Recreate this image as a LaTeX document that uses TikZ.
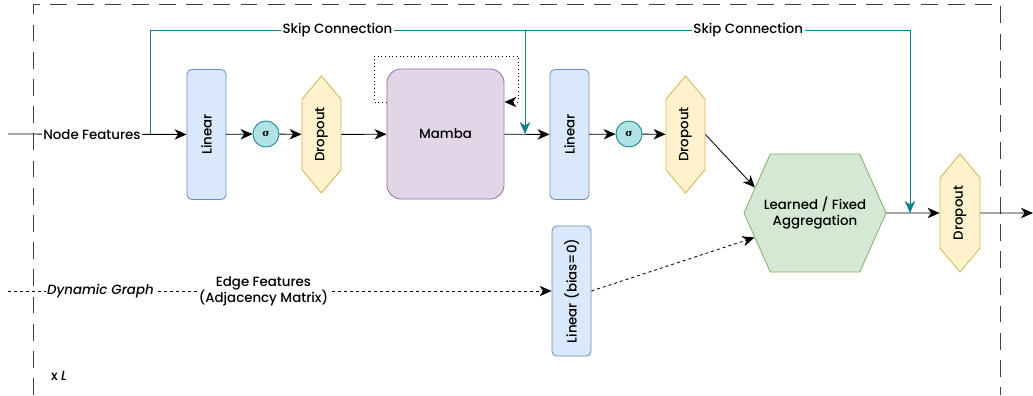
\documentclass[tikz,border=0pt]{standalone}
\usepackage{fontspec}
\setmainfont{Poppins}[UprightFont=* Medium,ItalicFont=* Medium Italic]
\newfontfamily\greekfont{DejaVu Serif}
\usepackage{tikz}
\usetikzlibrary{positioning,arrows.meta,shapes.symbols,calc}

\definecolor{linfill}{HTML}{DAE8FC}
\definecolor{linline}{HTML}{6C8EBF}
\definecolor{dropfill}{HTML}{FFF2CC}
\definecolor{dropline}{HTML}{D6B656}
\definecolor{mambafill}{HTML}{E1D5E7}
\definecolor{mambaline}{HTML}{9673A6}
\definecolor{aggfill}{HTML}{D5E8D4}
\definecolor{aggline}{HTML}{82B366}
\definecolor{actfill}{HTML}{B0E3E6}
\definecolor{actline}{HTML}{0E8088}

\begin{document}
\begin{tikzpicture}[x=0.025cm,y=-0.025cm,font=\fontsize{9.5}{11.5}\selectfont,line width=0.6pt,
  >={Stealth[length=3mm,width=2.6mm,inset=0.9mm]},
  linear/.style={draw=linline,fill=linfill,rounded corners=1.2mm,rotate=90,
    minimum width=3.25cm,minimum height=0.975cm,inner sep=1pt},
  dropout/.style={draw=dropline,fill=dropfill,shape=signal,signal to=east and west,
    signal pointer angle=80,rotate=90,minimum width=2.925cm,minimum height=0.975cm,inner sep=1pt},
  act/.style={circle,draw=actline,fill=actfill,minimum size=0.65cm,inner sep=0pt,
    font=\greekfont\bfseries\fontsize{7}{8}\selectfont},
  lbl/.style={fill=white,inner sep=1pt},
  skip/.style={draw=actline},
  dashline/.style={dash pattern=on 0.075cm off 0.075cm},
  ]
  \useasboundingbox (0,0) rectangle (1033,395);

  % repeated block frame
  \draw[black!75,line width=0.7pt,dash pattern=on 0.42cm off 0.26cm] (33,395) -- (33,4) -- (1000,4) -- (1000,395);
  \node[anchor=west] (reps) at (46,376) {x \textit{L}};

  % node feature path
  \node[linear] (lin1) at (206.5,134.5) {Linear};
  \node[act] (sig1) at (266,134) {σ};
  \node[dropout] (drop1) at (321.5,134.5) {Dropout};
  \node[draw=mambaline,fill=mambafill,rounded corners=3.5mm,minimum width=2.925cm,minimum height=3.25cm] (mamba) at (445.5,134) {Mamba};
  \node[linear] (lin2) at (569.5,134.5) {Linear};
  \node[act] (sig2) at (629,134) {σ};
  \node[dropout] (drop2) at (685.5,134.5) {Dropout};
  \node[draw=aggline,fill=aggfill,shape=signal,signal to=east and west,signal pointer angle=132,
    inner xsep=-0.32cm,minimum width=3.55cm,minimum height=2.95cm,align=center] (agg) at (815,213) {Learned / Fixed\\Aggregation};
  \node[dropout,minimum width=2.95cm,minimum height=1cm] (drop3) at (960,213) {Dropout};
  % edge feature path
  \node[linear] (lin3) at (571.5,291) {Linear (bias=0)};

  \coordinate (in) at (8,134);
  \coordinate (fork) at (150,134);
  \coordinate (join) at (525,134);
  \coordinate (top1) at (525,30);
  \coordinate (merge) at (910,213);
  \coordinate (out) at (1033,213);
  \coordinate (dyn) at (8,291);
  \coordinate (loopl) at (374,56);
  \coordinate (loopr) at (518,102);

  \draw[->] (in) -- node[lbl,pos=0.47] {Node Features} (lin1);
  \draw[->] (lin1) -- (sig1);
  \draw[->] (sig1) -- (drop1);
  \draw[->] (drop1) -- (mamba);
  \draw[->] (mamba) -- (lin2);
  \draw[->] (lin2) -- (sig2);
  \draw[->] (sig2) -- (drop2);
  \draw[->] (drop2.south) -- (agg.157);
  \draw[->] (agg) -- (drop3);
  \draw[->] (drop3) -- (out);

  % recurrence around the Mamba block
  \draw[dotted,->] ($(mamba.west)+(0,-32)$) -| (loopl) -| (loopr) -- ($(mamba.east)+(0,-32)$);

  % skip connections
  \draw[skip,->] (fork) |- node[lbl,pos=0.75] {Skip Connection} (top1) -- (join);
  \draw[skip,->] (top1) -| node[lbl,pos=0.29] {Skip Connection} (merge);

  \draw[dashline,->] (dyn) -- node[lbl,pos=0.17] {\itshape Dynamic Graph}
    node[lbl,pos=0.47,align=center] {Edge Features\\(Adjacency Matrix)} (lin3);
  \draw[dashline,->] (lin3.south) -- (agg.202);
\end{tikzpicture}
\end{document}
